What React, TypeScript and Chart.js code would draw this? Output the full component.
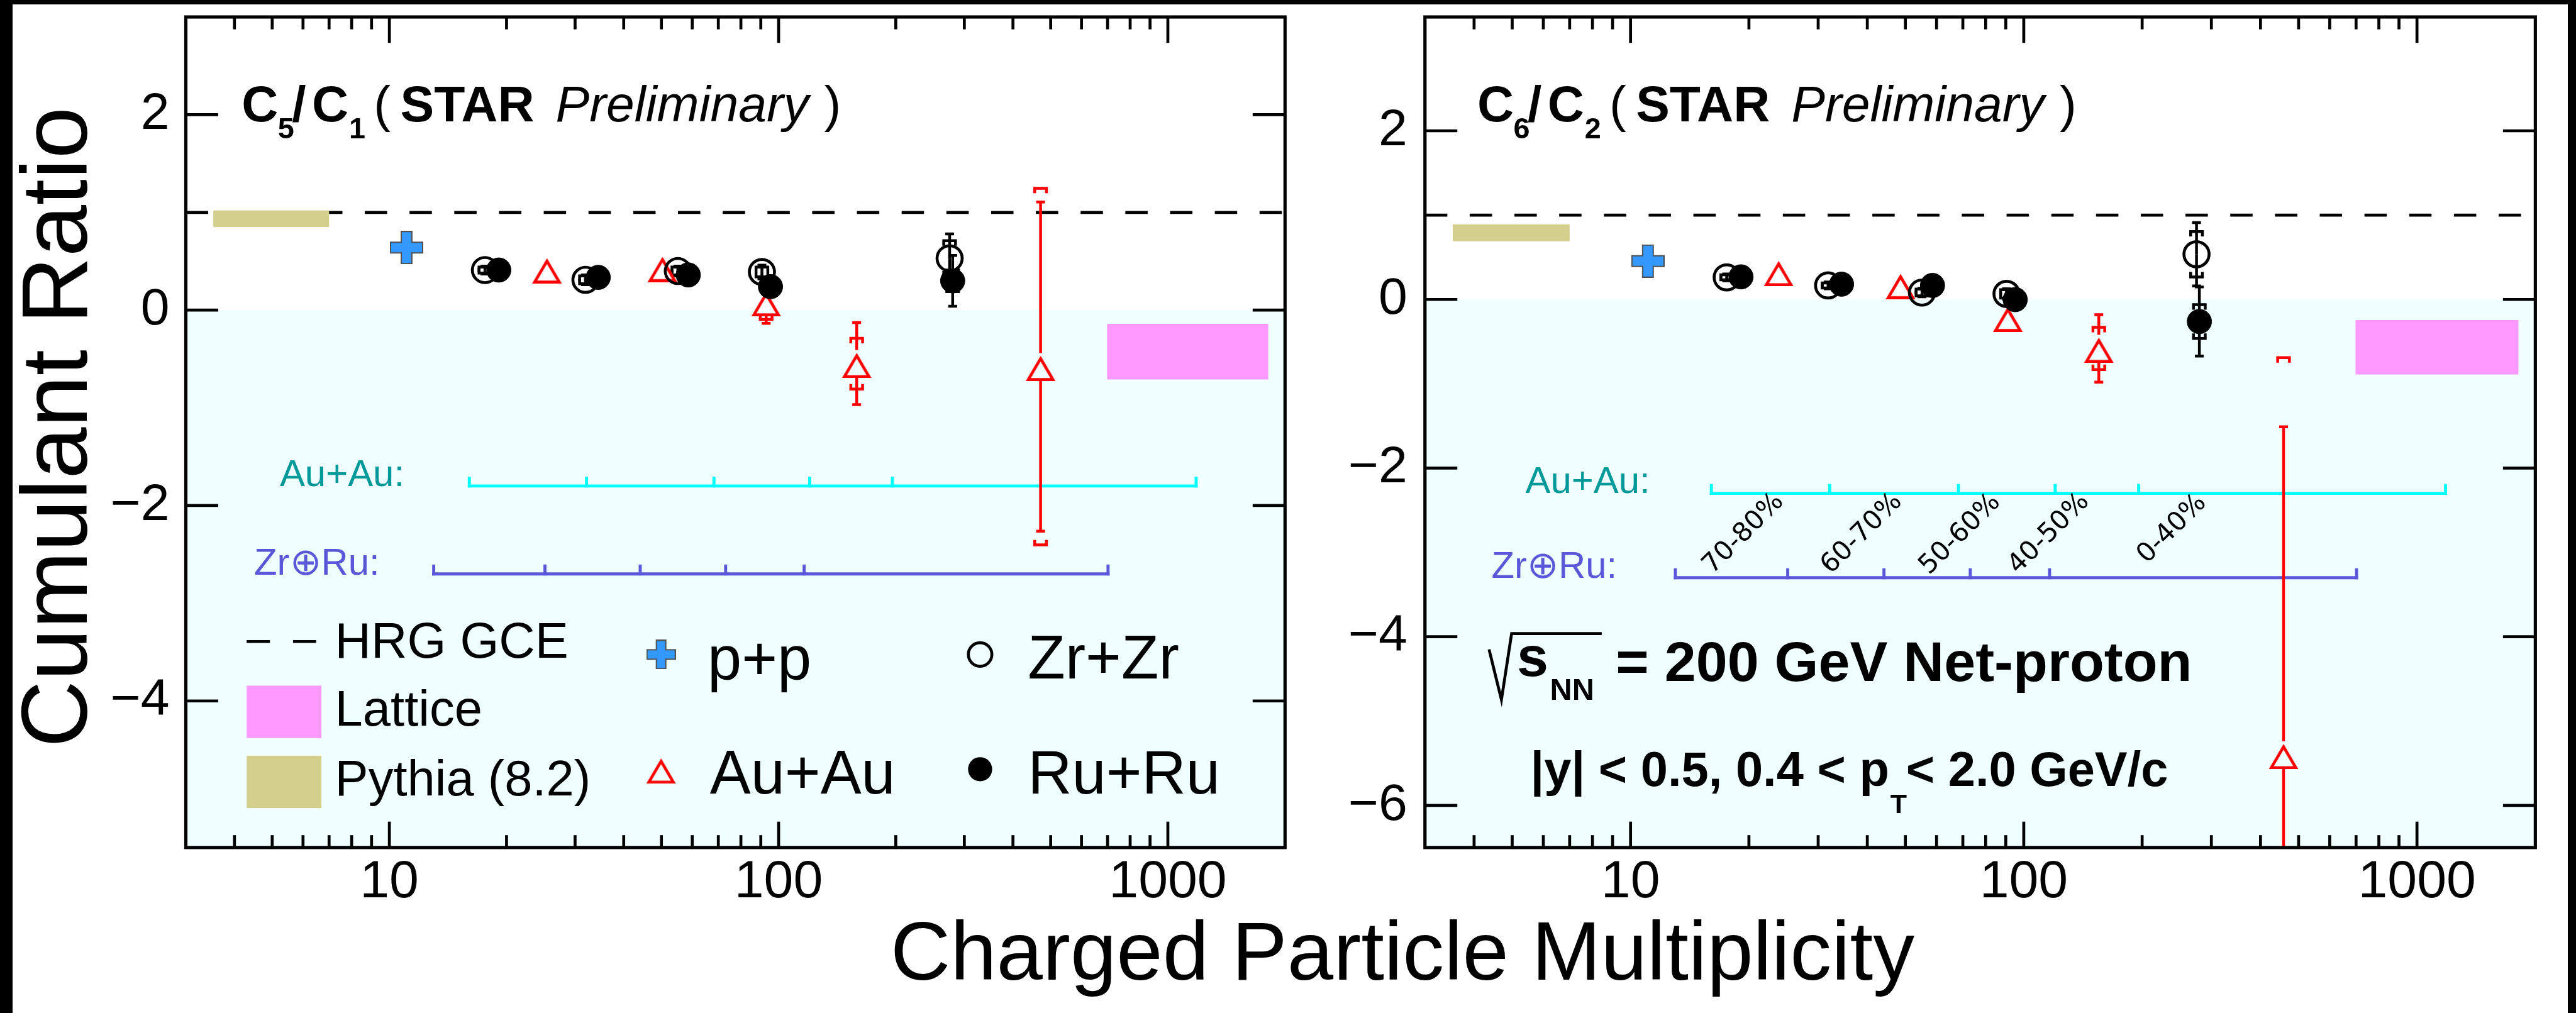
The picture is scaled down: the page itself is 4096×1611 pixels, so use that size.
import React, { useEffect, useRef } from 'react';
import { Chart, registerables } from 'chart.js';

Chart.register(...registerables);

const S = 0.936;
const W = 4096;
const H = 1611;
const SANS = '"Liberation Sans", Arial, Helvetica, sans-serif';
const DEJAVU = '"DejaVu Sans", "Liberation Sans", sans-serif';

/* ---------------- data ---------------- */
const xTickValues = [10, 100, 1000];
const c5_yTicks = [-4, -2, 0, 2];
const c6_yTicks = [-6, -4, -2, 0, 2];
const hrgGCE = 1.0;

// C5/C1 panel
const c5_ppX = [11.07];
const c5_ppY = [0.64];
const c5_auX = [25.4, 50.3, 92.9, 158.7, 471];
const c5_auY = [0.42, 0.435, 0.084, -0.548, -0.578];
const c5_auStat = [0.04, 0.04, 0.22, 0.42, 1.685];
const c5_auSys = [0.03, 0.03, 0.18, 0.26, 1.825];
const c5_zrX = [17.6, 31.9, 55.1, 90.6, 275];
const c5_zrY = [0.41, 0.31, 0.4, 0.39, 0.53];
const c5_zrStat = [0.04, 0.05, 0.05, 0.07, 0.25];
const c5_zrSys = [0.03, 0.04, 0.04, 0.05, 0.18];
const c5_ruX = [19.1, 34.4, 58.6, 95.3, 280];
const c5_ruY = [0.41, 0.335, 0.36, 0.24, 0.3];
const c5_ruStat = [0.03, 0.04, 0.04, 0.05, 0.26];
const c5_ruSys = [0.02, 0.03, 0.03, 0.04, 0.11];

// C6/C2 panel
const c6_ppX = [11.07];
const c6_ppY = [0.455];
const c6_auX = [23.8, 48.6, 91.1, 155.2, 457.8];
const c6_auY = [0.328, 0.175, -0.214, -0.581, -5.4];
const c6_auStat = [0.05, 0.05, 0.08, 0.4, 3.89];
const c6_auSys = [0.04, 0.04, 0.06, 0.25, 4.71];
const c6_zrX = [17.56, 31.8, 55.1, 90.4, 275];
const c6_zrY = [0.262, 0.166, 0.082, 0.066, 0.536];
const c6_zrStat = [0.04, 0.04, 0.05, 0.06, 0.376];
const c6_zrSys = [0.03, 0.03, 0.04, 0.05, 0.27];
const c6_ruX = [19.09, 34.4, 58.6, 95.1, 279.6];
const c6_ruY = [0.268, 0.181, 0.166, -0.002, -0.262];
const c6_ruStat = [0.03, 0.04, 0.04, 0.05, 0.41];
const c6_ruSys = [0.02, 0.03, 0.03, 0.04, 0.2];

// model bands
const pythiaX = [3.53, 7.0];
const c5_pythiaY = [0.85, 1.02];
const c6_pythiaY = [0.69, 0.89];
const latticeX = [698, 1811];
const c5_latticeY = [-0.71, -0.14];
const c6_latticeY = [-0.89, -0.245];

// centrality classes (multiplicity edges)
const auauCentEdges = [16.05, 32.1, 68.2, 120.2, 196, 1182];
const zrruCentEdges = [13.0, 25.1, 44.1, 73.1, 116.3, 702];
const centLabels = ['70-80%', '60-70%', '50-60%', '40-50%', '0-40%'];
const c5_centBarY = [-1.8, -2.7];
const c6_centBarY = [-2.3, -3.3];

/* ---------------- layout (full-size reference pixels) ---------------- */
const CENT_LABEL_PX = [
  [2962, 907],
  [3163, 907],
  [3330, 908],
  [3481, 907],
  [3690, 899],
];
const Y_AXIS_BOX = 200; // output px reserved for y tick labels
const X_AXIS_BOX = 140; // output px reserved for x tick labels

type Series = { x: number[]; y: number[]; stat: number[]; sys: number[] };
type Panel = {
  key: string;
  frame: number[];
  yMin: number;
  yMax: number;
  yTicks: number[];
  ppX: number[];
  ppY: number[];
  au: Series;
  zr: Series;
  ru: Series;
  pythiaY: number[];
  latticeY: number[];
  barY: number[];
};

const panelC5: Panel = {
  key: 'c5',
  frame: [315.7, 27.2, 2183, 1440],
  yMin: -5.5,
  yMax: 3,
  yTicks: c5_yTicks,
  ppX: c5_ppX,
  ppY: c5_ppY,
  au: { x: c5_auX, y: c5_auY, stat: c5_auStat, sys: c5_auSys },
  zr: { x: c5_zrX, y: c5_zrY, stat: c5_zrStat, sys: c5_zrSys },
  ru: { x: c5_ruX, y: c5_ruY, stat: c5_ruStat, sys: c5_ruSys },
  pythiaY: c5_pythiaY,
  latticeY: c5_latticeY,
  barY: c5_centBarY,
};

const panelC6: Panel = {
  key: 'c6',
  frame: [2420.7, 27.2, 4307, 1440],
  yMin: -6.5,
  yMax: 3.35,
  yTicks: c6_yTicks,
  ppX: c6_ppX,
  ppY: c6_ppY,
  au: { x: c6_auX, y: c6_auY, stat: c6_auStat, sys: c6_auSys },
  zr: { x: c6_zrX, y: c6_zrY, stat: c6_zrStat, sys: c6_zrSys },
  ru: { x: c6_ruX, y: c6_ruY, stat: c6_ruStat, sys: c6_ruSys },
  pythiaY: c6_pythiaY,
  latticeY: c6_latticeY,
  barY: c6_centBarY,
};

/* ---------------- marker images ---------------- */
function makeTriangle(w: number, h: number, lw: number) {
  const c = document.createElement('canvas');
  c.width = Math.round(w);
  c.height = Math.round(h);
  const g = c.getContext('2d')!;
  g.strokeStyle = '#ff0000';
  g.lineWidth = lw;
  g.lineJoin = 'miter';
  g.beginPath();
  g.moveTo(c.width / 2, lw * 2.2);
  g.lineTo(c.width - lw * 0.95, c.height - lw / 2);
  g.lineTo(lw * 0.95, c.height - lw / 2);
  g.closePath();
  g.stroke();
  return c;
}

function makePlus(size: number, arm: number) {
  const c = document.createElement('canvas');
  c.width = Math.round(size);
  c.height = Math.round(size);
  const n = c.width;
  const g = c.getContext('2d')!;
  const a0 = (n - arm) / 2;
  const a1 = (n + arm) / 2;
  g.beginPath();
  g.moveTo(a0, 1);
  g.lineTo(a1, 1);
  g.lineTo(a1, a0);
  g.lineTo(n - 1, a0);
  g.lineTo(n - 1, a1);
  g.lineTo(a1, a1);
  g.lineTo(a1, n - 1);
  g.lineTo(a0, n - 1);
  g.lineTo(a0, a1);
  g.lineTo(1, a1);
  g.lineTo(1, a0);
  g.lineTo(a0, a0);
  g.closePath();
  g.fillStyle = '#3399ff';
  g.fill();
  g.strokeStyle = '#505050';
  g.lineWidth = 2;
  g.stroke();
  return c;
}

type Markers = { tri: HTMLCanvasElement; plus: HTMLCanvasElement; plusLeg: HTMLCanvasElement };

/* ---------------- drawing helpers ---------------- */
function line(ctx: CanvasRenderingContext2D, x1: number, y1: number, x2: number, y2: number) {
  ctx.beginPath();
  ctx.moveTo(x1, y1);
  ctx.lineTo(x2, y2);
  ctx.stroke();
}

function txt(
  ctx: CanvasRenderingContext2D,
  s: string,
  x: number,
  y: number,
  size: number,
  style = '',
  color = '#000',
  align: CanvasTextAlign = 'left',
  family = SANS
) {
  ctx.font = `${style} ${size * S}px ${family}`.trim();
  ctx.fillStyle = color;
  ctx.textAlign = align;
  ctx.textBaseline = 'alphabetic';
  ctx.fillText(s, x * S, y * S);
}

function makePlugin(p: Panel, mk: Markers) {
  return {
    id: 'starDecor_' + p.key,
    beforeDatasetsDraw(chart: any) {
      const ctx: CanvasRenderingContext2D = chart.ctx;
      const a = chart.chartArea;
      const xs = chart.scales.x;
      const ys = chart.scales.y;
      const X = (v: number) => xs.getPixelForValue(v);
      const Y = (v: number) => ys.getPixelForValue(v);
      ctx.save();
      ctx.beginPath();
      ctx.rect(a.left, a.top, a.right - a.left, a.bottom - a.top);
      ctx.clip();

      // light background below zero
      ctx.fillStyle = '#f0ffff';
      ctx.fillRect(a.left, Y(0), a.right - a.left, a.bottom - Y(0));

      // HRG GCE dashed line
      ctx.strokeStyle = '#000';
      ctx.lineWidth = 5 * S;
      ctx.setLineDash([38 * S, 38 * S]);
      line(ctx, a.left, Y(hrgGCE), a.right, Y(hrgGCE));
      ctx.setLineDash([]);

      // model bands
      ctx.fillStyle = '#d4cf8c';
      ctx.fillRect(X(pythiaX[0]), Y(p.pythiaY[1]), X(pythiaX[1]) - X(pythiaX[0]), Y(p.pythiaY[0]) - Y(p.pythiaY[1]));
      ctx.fillStyle = '#ff99ff';
      ctx.fillRect(X(latticeX[0]), Y(p.latticeY[1]), X(latticeX[1]) - X(latticeX[0]), Y(p.latticeY[0]) - Y(p.latticeY[1]));

      // centrality bars
      const bar = (edges: number[], yv: number, color: string) => {
        const y = Y(yv);
        ctx.strokeStyle = color;
        ctx.lineWidth = 5.2 * S;
        ctx.lineCap = 'butt';
        line(ctx, X(edges[0]) - 2.6 * S, y, X(edges[edges.length - 1]) + 2.6 * S, y);
        edges.forEach((e) => line(ctx, X(e), y + 2.6 * S, X(e), y - 16 * S));
      };
      bar(auauCentEdges, p.barY[0], '#00ffff');
      bar(zrruCentEdges, p.barY[1], '#5b57d9');

      if (p.key === 'c5') {
        txt(ctx, 'Au+Au:', 687, 826, 64, '', '#009999', 'right');
        txt(ctx, 'Zr\u2295Ru:', 645, 976, 64, '', '#5b57d9', 'right');
      } else {
        txt(ctx, 'Au+Au:', 2803, 838, 64, '', '#009999', 'right');
        txt(ctx, 'Zr\u2295Ru:', 2747, 982, 64, '', '#5b57d9', 'right');
        ctx.fillStyle = '#000';
        ctx.font = `${45 * S}px ${DEJAVU}`;
        centLabels.forEach((lab, i) => {
          ctx.save();
          ctx.translate(CENT_LABEL_PX[i][0] * S, CENT_LABEL_PX[i][1] * S);
          ctx.rotate((-45 * Math.PI) / 180);
          ctx.textAlign = 'center';
          ctx.textBaseline = 'middle';
          ctx.fillText(lab, 0, 0);
          ctx.restore();
        });
      }

      // error bars (stat: line with caps, sys: brackets)
      const errs = (sr: Series, color: string, gap: number) => {
        ctx.strokeStyle = color;
        ctx.lineWidth = 4.8 * S;
        ctx.lineCap = 'butt';
        const cw = 7.5 * S;
        const bw = 10 * S;
        const leg = 8.5 * S;
        sr.x.forEach((xv, i) => {
          const px = X(xv);
          const py = Y(sr.y[i]);
          const up = Y(sr.y[i] + sr.stat[i]);
          const dn = Y(sr.y[i] - sr.stat[i]);
          if (py - gap > up) {
            line(ctx, px, py - gap, px, up);
            line(ctx, px - cw, up, px + cw, up);
          }
          if (py + gap < dn) {
            line(ctx, px, py + gap, px, dn);
            line(ctx, px - cw, dn, px + cw, dn);
          }
          const su = Y(sr.y[i] + sr.sys[i]);
          const sd = Y(sr.y[i] - sr.sys[i]);
          if (py - gap > su) {
            ctx.beginPath();
            ctx.moveTo(px - bw, su + leg);
            ctx.lineTo(px - bw, su);
            ctx.lineTo(px + bw, su);
            ctx.lineTo(px + bw, su + leg);
            ctx.stroke();
          }
          if (py + gap < sd) {
            ctx.beginPath();
            ctx.moveTo(px - bw, sd - leg);
            ctx.lineTo(px - bw, sd);
            ctx.lineTo(px + bw, sd);
            ctx.lineTo(px + bw, sd - leg);
            ctx.stroke();
          }
        });
      };
      errs(p.au, '#ff0000', 23 * S);
      errs(p.zr, '#000', 0);
      errs(p.ru, '#000', 0);
      ctx.restore();
    },
    afterDatasetsDraw(chart: any) {
      const ctx: CanvasRenderingContext2D = chart.ctx;
      const a = chart.chartArea;
      const xs = chart.scales.x;
      const ys = chart.scales.y;
      const X = (v: number) => xs.getPixelForValue(v);
      const Y = (v: number) => ys.getPixelForValue(v);
      ctx.save();
      // frame
      ctx.strokeStyle = '#000';
      ctx.lineWidth = 5.5 * S;
      ctx.strokeRect(a.left, a.top, a.right - a.left, a.bottom - a.top);
      // ticks
      ctx.lineWidth = 5 * S;
      p.yTicks.forEach((v) => {
        const y = Y(v);
        line(ctx, a.left, y, a.left + 55 * S, y);
        line(ctx, a.right, y, a.right - 55 * S, y);
      });
      [1, 10, 100, 1000].forEach((d) => {
        for (let m = 1; m <= 9; m++) {
          const v = m * d;
          if (v <= xs.min || v >= xs.max) continue;
          const len = m === 1 ? 44 * S : 21 * S;
          const x = X(v);
          line(ctx, x, a.bottom, x, a.bottom - len);
          line(ctx, x, a.top, x, a.top + len);
        }
      });

      // panel titles
      const dx = p.key === 'c5' ? 0 : 2099;
      const n1 = p.key === 'c5' ? '5' : '6';
      const n2 = p.key === 'c5' ? '1' : '2';
      txt(ctx, 'C', 410.5 + dx, 206.6, 86, 'bold');
      txt(ctx, n1, 472 + dx, 235, 50, 'bold');
      txt(ctx, '/', 496 + dx, 206.6, 86, 'bold');
      txt(ctx, 'C', 530 + dx, 206.6, 86, 'bold');
      txt(ctx, n2, 593 + dx, 235, 50, 'bold');
      txt(ctx, '(', 635 + dx, 206.6, 86);
      txt(ctx, 'STAR', 680 + dx, 206.6, 86, 'bold');
      txt(ctx, 'Preliminary', 944 + dx, 206.6, 86, 'italic');
      txt(ctx, ')', 1400 + dx, 206.6, 86);

      if (p.key === 'c5') {
        // legend
        ctx.strokeStyle = '#000';
        ctx.lineWidth = 5 * S;
        line(ctx, 419 * S, 1090 * S, 458.6 * S, 1090 * S);
        line(ctx, 497.8 * S, 1090 * S, 537 * S, 1090 * S);
        txt(ctx, 'HRG GCE', 569, 1117, 85);
        ctx.fillStyle = '#ff99ff';
        ctx.fillRect(419 * S, 1165 * S, 127 * S, 89 * S);
        txt(ctx, 'Lattice', 569, 1233, 85);
        ctx.fillStyle = '#d4cf8c';
        ctx.fillRect(419 * S, 1284 * S, 127 * S, 89 * S);
        txt(ctx, 'Pythia (8.2)', 569, 1352, 85);

        ctx.drawImage(mk.plusLeg, 1123 * S - mk.plusLeg.width / 2, 1112 * S - mk.plusLeg.height / 2);
        txt(ctx, 'p+p', 1202, 1155, 104);
        ctx.drawImage(mk.tri, 1123 * S - mk.tri.width / 2, 1307 * S - mk.tri.height / 2);
        txt(ctx, 'Au+Au', 1206, 1348, 104);

        ctx.strokeStyle = '#000';
        ctx.lineWidth = 5 * S;
        ctx.beginPath();
        ctx.arc(1665 * S, 1112 * S, 20 * S, 0, Math.PI * 2);
        ctx.stroke();
        txt(ctx, 'Zr+Zr', 1746, 1153, 104);
        ctx.fillStyle = '#000';
        ctx.beginPath();
        ctx.arc(1665 * S, 1307 * S, 20.5 * S, 0, Math.PI * 2);
        ctx.fill();
        txt(ctx, 'Ru+Ru', 1746, 1348, 104);

        // y axis title
        ctx.save();
        ctx.translate(147 * S, 726 * S);
        ctx.rotate(-Math.PI / 2);
        ctx.font = `${158 * S}px ${SANS}`;
        ctx.fillStyle = '#000';
        ctx.textAlign = 'center';
        ctx.textBaseline = 'alphabetic';
        ctx.fillText('Cumulant Ratio', 0, 0);
        ctx.restore();
      } else {
        // energy label with sqrt sign
        ctx.strokeStyle = '#000';
        ctx.lineWidth = 5 * S;
        ctx.lineJoin = 'miter';
        ctx.beginPath();
        ctx.moveTo(2529.6 * S, 1103.4 * S);
        ctx.lineTo(2550.6 * S, 1188.9 * S);
        ctx.lineTo(2567.9 * S, 1076.5 * S);
        ctx.lineTo(2721 * S, 1076.5 * S);
        ctx.stroke();
        txt(ctx, 's', 2577, 1148, 96, 'bold');
        txt(ctx, 'NN', 2633, 1189, 52, 'bold');
        txt(ctx, '= 200 GeV Net-proton', 2745, 1156.8, 96, 'bold');

        txt(ctx, '|y| < 0.5, 0.4 < p', 2600, 1336, 83, 'bold');
        ctx.font = `bold ${83 * S}px ${SANS}`;
        const w1 = ctx.measureText('|y| < 0.5, 0.4 < p').width / S;
        txt(ctx, 'T', 2600 + w1 + 2, 1381, 46, 'bold');
        txt(ctx, '< 2.0 GeV/c', 3238, 1336, 83, 'bold');

        // x axis title (spans both panels)
        txt(ctx, 'Charged Particle Multiplicity', 2382.5, 1665, 141, '', '#000', 'center');
      }
      ctx.restore();
    },
  };
}

function buildConfig(p: Panel, mk: Markers): any {
  const pts = (xa: number[], ya: number[]) => xa.map((x, i) => ({ x, y: ya[i] }));
  const datasets = [
    {
      label: 'Ru+Ru',
      data: pts(p.ru.x, p.ru.y),
      pointStyle: 'circle',
      pointRadius: 19.4,
      backgroundColor: '#000',
      borderColor: '#000',
      borderWidth: 1,
      showLine: false,
    },
    {
      label: 'Zr+Zr',
      data: pts(p.zr.x, p.zr.y),
      pointStyle: 'circle',
      pointRadius: 20,
      backgroundColor: 'rgba(0,0,0,0)',
      borderColor: '#000',
      borderWidth: 5 * S,
      showLine: false,
    },
    {
      label: 'Au+Au',
      data: pts(p.au.x, p.au.y),
      pointStyle: mk.tri,
      pointRadius: 24,
      showLine: false,
    },
    {
      label: 'p+p',
      data: pts(p.ppX, p.ppY),
      pointStyle: mk.plus,
      pointRadius: 26,
      showLine: false,
    },
  ];
  const [l, t, r, b] = p.frame;
  return {
    type: 'scatter',
    data: { datasets },
    options: {
      responsive: false,
      maintainAspectRatio: false,
      animation: false,
      devicePixelRatio: 1,
      events: [],
      layout: {
        padding: {
          left: l * S - Y_AXIS_BOX,
          top: t * S,
          right: W - r * S,
          bottom: H - b * S - X_AXIS_BOX,
        },
      },
      plugins: { legend: { display: false }, tooltip: { enabled: false }, title: { display: false } },
      scales: {
        x: {
          type: 'logarithmic',
          min: 3,
          max: 2000,
          afterBuildTicks: (s: any) => {
            s.ticks = xTickValues.map((v) => ({ value: v }));
          },
          afterFit: (s: any) => {
            s.height = X_AXIS_BOX;
            s.paddingLeft = 0;
            s.paddingRight = 0;
          },
          grid: { display: false, drawTicks: false },
          border: { display: false },
          ticks: {
            autoSkip: false,
            maxRotation: 0,
            minRotation: 0,
            padding: 5,
            color: '#000',
            font: { family: SANS, size: 90 * S },
            callback: (v: any) => String(v),
          },
        },
        y: {
          type: 'linear',
          min: p.yMin,
          max: p.yMax,
          afterBuildTicks: (s: any) => {
            s.ticks = p.yTicks.map((v) => ({ value: v }));
          },
          afterFit: (s: any) => {
            s.width = Y_AXIS_BOX;
            s.paddingTop = 0;
            s.paddingBottom = 0;
          },
          grid: { display: false, drawTicks: false },
          border: { display: false },
          ticks: {
            padding: p.key === 'c5' ? 26 : 28,
            color: '#000',
            font: { family: SANS, size: 88 * S },
            callback: (v: any) => (v < 0 ? '\u2212' + Math.abs(v) : String(v)),
          },
        },
      },
    },
    plugins: [makePlugin(p, mk)],
  };
}

export default function App() {
  const leftRef = useRef<HTMLCanvasElement>(null);
  const rightRef = useRef<HTMLCanvasElement>(null);

  useEffect(() => {
    const mk: Markers = {
      tri: makeTriangle(51 * S, 49 * S, 5 * S),
      plus: makePlus(57 * S, 18 * S),
      plusLeg: makePlus(50 * S, 16 * S),
    };
    const c1 = new Chart(leftRef.current as HTMLCanvasElement, buildConfig(panelC5, mk));
    const c2 = new Chart(rightRef.current as HTMLCanvasElement, buildConfig(panelC6, mk));
    return () => {
      c1.destroy();
      c2.destroy();
    };
  }, []);

  const cv: React.CSSProperties = { position: 'absolute', left: 0, top: 0, width: W, height: H };
  return (
    <div style={{ position: 'fixed', left: 0, top: 0, width: W, height: H, background: '#fff', overflow: 'hidden' }}>
      <canvas ref={leftRef} width={W} height={H} style={cv} />
      <canvas ref={rightRef} width={W} height={H} style={cv} />
      <div style={{ position: 'absolute', left: 0, top: 0, width: W, height: 7, background: '#000' }} />
      <div style={{ position: 'absolute', left: 0, top: 0, width: 20, height: H, background: '#000' }} />
      <div style={{ position: 'absolute', left: W - 13, top: 0, width: 13, height: H, background: '#000' }} />
    </div>
  );
}
